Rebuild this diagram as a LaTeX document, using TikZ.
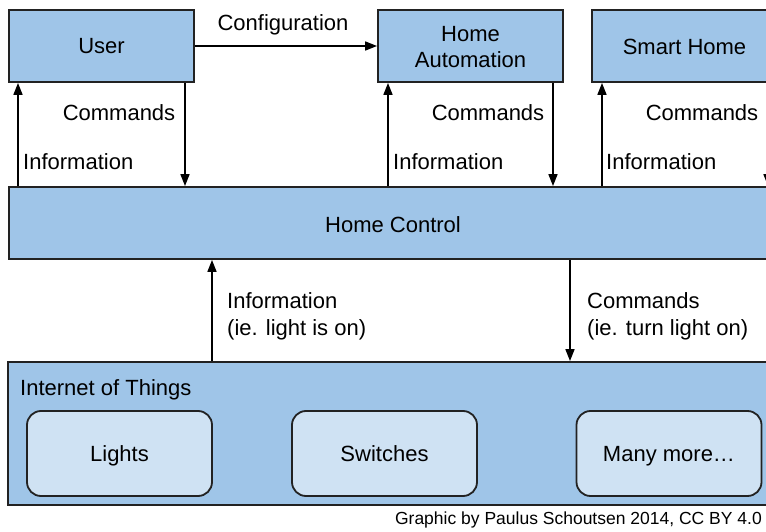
\documentclass[tikz,border=0pt]{standalone}
\usepackage{fontspec}
\setmainfont{Liberation Sans}
\usetikzlibrary{arrows.meta}
\definecolor{boxblue}{HTML}{9FC5E8}
\definecolor{lightblue}{HTML}{CFE2F3}
\definecolor{edge}{HTML}{222222}
\begin{document}
\begin{tikzpicture}[x=1pt,y=-1pt,
  every node/.style={font=\fontsize{22}{26}\selectfont, inner sep=0pt},
  bluebox/.style={draw=edge, line width=1.8pt, fill=boxblue},
  thingbox/.style={draw=edge, line width=1.8pt, fill=lightblue, rounded corners=14pt, minimum width=185pt, minimum height=85pt, text height=16pt, text depth=0pt},
  arr/.style={draw=black, line width=1.6pt, -{Triangle[length=12pt,width=9pt]}},
  lbl/.style={anchor=west, align=left},
  oneline/.style={text height=16pt, text depth=0pt}
]
\useasboundingbox (0,0) rectangle (766,532);
\clip (0,0) rectangle (766,532);
\fill[white] (0,0) rectangle (766,532);

% top boxes
\node[bluebox, oneline, minimum width=185pt, minimum height=72pt] (user) at (101.5,46) {User};
\node[bluebox, minimum width=185pt, minimum height=72pt] (ha) at (470.5,46) {};
\node[align=center, font=\fontsize{22}{26}\selectfont] (hatext) at (470.5,47) {Home\\Automation};
\node[bluebox, minimum width=185pt, minimum height=72pt] (sh) at (684.5,46) {};
\node[oneline] (shtext) at (684.5,47) {Smart Home};

% home control
\node[bluebox, minimum width=768pt, minimum height=72pt] (hc) at (393,223) {};
\node[oneline] (hctext) at (393,224) {Home Control};

% IoT
\node[bluebox, minimum width=770pt, minimum height=143pt] (iot) at (393,433.5) {};
\node[anchor=west, oneline] (iottext) at (20,387) {Internet of Things};
\node[thingbox] (lights) at (119.5,453.5) {Lights};
\node[thingbox] (switches) at (384.5,453.5) {Switches};
\node[thingbox] (more) at (669,453.5) {Many more\ldots};

% x positions
\coordinate (x1) at (18,0);
\coordinate (x2) at (185,0);
\coordinate (x3) at (388,0);
\coordinate (x4) at (553,0);
\coordinate (x5) at (602,0);
\coordinate (x6) at (768,0);
\coordinate (x7) at (212,0);
\coordinate (x8) at (570,0);

% arrows
\draw[arr] (user.east) -- (ha.west);
\node[oneline] (config) at (283,23) {Configuration};

\draw[arr] (hc.north -| x1) -- (user.south -| x1);
\draw[arr] (user.south -| x2) -- (hc.north -| x2);
\draw[arr] (hc.north -| x3) -- (ha.south -| x3);
\draw[arr] (ha.south -| x4) -- (hc.north -| x4);
\draw[arr] (hc.north -| x5) -- (sh.south -| x5);
\draw[arr] (sh.south -| x6) -- (hc.north -| x6);
\draw[arr] (iot.north -| x7) -- (hc.south -| x7);
\draw[arr] (hc.south -| x8) -- (iot.north -| x8);

% labels
\node[oneline] (c1) at (119,113) {Commands};
\node[lbl, oneline] (i1) at (23,162) {Information};
\node[oneline] (c2) at (488,113) {Commands};
\node[lbl, oneline] (i2) at (393,162) {Information};
\node[oneline] (c3) at (702,113) {Commands};
\node[lbl, oneline] (i3) at (606,162) {Information};
\node[lbl, font=\fontsize{22}{27}\selectfont] (i4) at (227,316) {Information\\(ie. light is on)};
\node[lbl, font=\fontsize{22}{27}\selectfont] (c4) at (587,316) {Commands\\(ie. turn light on)};

% footer
\node[anchor=east, font=\fontsize{17.5}{20}\selectfont] (credit) at (762,520) {Graphic by Paulus Schoutsen 2014, CC BY 4.0};
\end{tikzpicture}
\end{document}
